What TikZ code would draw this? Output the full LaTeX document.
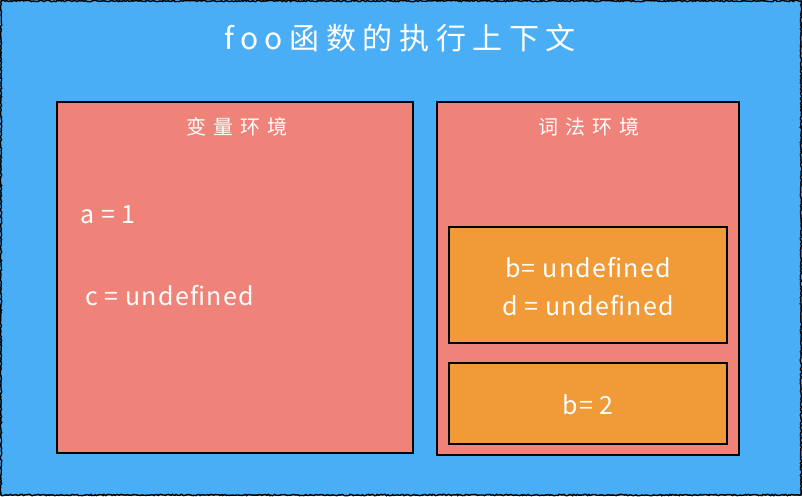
\documentclass[tikz,border=0pt]{standalone}
\usepackage{fontspec}
\setmainfont{Noto Sans CJK SC}
\usetikzlibrary{decorations.pathmorphing}
\definecolor{bgblue}{HTML}{4AAEF7}
\definecolor{envred}{HTML}{F08379}
\definecolor{recorange}{HTML}{F19A38}
\tikzset{
  envbox/.style={draw=black, line width=1.8pt, fill=envred},
  recbox/.style={draw=black, line width=1.8pt, fill=recorange},
  wtext/.style={text=white, inner sep=0pt},
  codetext/.style={wtext, font={\fontsize{25}{29}\selectfont\addfontfeature{LetterSpace=5}}},
  envtitle/.style={wtext, font={\fontsize{20}{24}\selectfont\addfontfeature{LetterSpace=34}}},
}
\begin{document}
\begin{tikzpicture}[x=1pt,y=-1pt]
\useasboundingbox (0,0) rectangle (802,496);
\fill[bgblue] (0,0) rectangle (802,496);
\draw[black, line width=1.4pt, decorate, decoration={random steps, segment length=1.5pt, amplitude=0.7pt}] (1,1) rectangle (801,495);
\node[wtext, font={\fontsize{30}{34}\selectfont\addfontfeature{LetterSpace=22}}] (title) at (400,38) {foo函数的执行上下文};
% left env
\draw[envbox] (57,102) rectangle (413,453);
\node[envtitle] (vtitle) at (237,127) {变量环境};
\node[codetext, anchor=west] (a) at (80,215) {a = 1};
\node[codetext, anchor=west] (c) at (85,296) {c = undefined};
% right env
\draw[envbox] (437,102) rectangle (739,455);
\node[envtitle] (ltitle) at (589,127) {词法环境};
\draw[recbox] (449,227) rectangle (727,343);
\node[codetext] (b1) at (588,268) {b= undefined};
\node[codetext] (d1) at (588,306) {d = undefined};
\draw[recbox] (449,363) rectangle (727,444);
\node[codetext] (b2) at (588,405) {b= 2};
\end{tikzpicture}
\end{document}
